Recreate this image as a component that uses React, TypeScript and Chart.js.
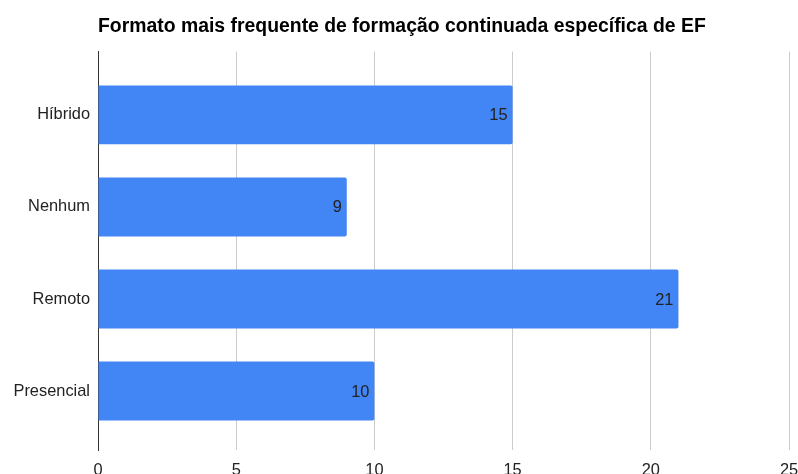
import React, { useEffect, useRef } from "react";
import { Chart, registerables } from "chart.js";

Chart.register(...registerables);

const title = "Formato mais frequente de formação continuada específica de EF";
const categories = ["Híbrido", "Nenhum", "Remoto", "Presencial"];
const values = [15, 9, 21, 10];
const xTicks = [0, 5, 10, 15, 20, 25];

const FONT = "'Liberation Sans', Arial, sans-serif";

const valueLabels = {
  id: "valueLabels",
  afterDatasetsDraw(chart: any) {
    const ctx = chart.ctx;
    const meta = chart.getDatasetMeta(0);
    ctx.save();
    ctx.font = `16.4px ${FONT}`;
    ctx.fillStyle = "#222222";
    ctx.textAlign = "right";
    ctx.textBaseline = "middle";
    meta.data.forEach((bar: any, i: number) => {
      ctx.fillText(String(values[i]), bar.x - 5, bar.y + 1);
    });
    ctx.restore();
  },
};

export default function App() {
  const ref = useRef<HTMLCanvasElement | null>(null);
  useEffect(() => {
    if (!ref.current) return;
    const chart = new Chart(ref.current, {
      type: "bar",
      data: {
        datasets: [
          {
            data: values.map((v, i) => ({ x: v, y: i })),
            backgroundColor: "#4285F4",
            borderRadius: { topRight: 2, bottomRight: 2, topLeft: 0, bottomLeft: 0 },
            borderSkipped: false,
            categoryPercentage: 0.8,
            barPercentage: 0.8,
          } as any,
        ],
      },
      options: {
        animation: false,
        responsive: false,
        maintainAspectRatio: false,
        indexAxis: "y",
        layout: { padding: { left: 0, right: 9, top: 0, bottom: 0 } },
        plugins: {
          legend: { display: false },
          tooltip: { enabled: false },
          title: {
            display: true,
            text: title,
            align: "start",
            fullSize: false,
            color: "#000000",
            font: { family: FONT, size: 19.4, weight: "bold" },
            padding: { top: 15, bottom: 13.3 },
          },
        },
        scales: {
          x: {
            type: "linear",
            min: 0,
            max: 25,
            offset: false,
            afterBuildTicks: (s: any) => {
              s.ticks = xTicks.map((v) => ({ value: v }));
            },
            afterFit: (s: any) => {
              s.paddingLeft = 0;
              s.paddingRight = 0;
            },
            grid: { color: "#cccccc", lineWidth: 1, drawTicks: false, offset: false },
            border: { display: false },
            ticks: {
              color: "#222222",
              padding: 10,
              font: { family: FONT, size: 16.4 },
            },
          },
          y: {
            type: "linear",
            reverse: true,
            offset: false,
            min: -0.688,
            max: 3.644,
            afterBuildTicks: (s: any) => {
              s.ticks = categories.map((_, i) => ({ value: i }));
            },
            afterFit: (s: any) => {
              s.width = 98;
            },
            grid: { display: false, drawTicks: false, offset: false },
            border: { display: true, color: "#333333", width: 1 },
            ticks: {
              color: "#222222",
              padding: 8,
              autoSkip: false,
              font: { family: FONT, size: 16.4 },
              callback: (v: any) => categories[Math.round(Number(v))] ?? "",
            },
          },
        },
      } as any,
      plugins: [valueLabels],
    });
    return () => chart.destroy();
  }, []);
  return (
    <div style={{ position: "fixed", left: 0, top: 0, width: 798, height: 474, overflow: "hidden", background: "#fff" }}>
      <canvas ref={ref} width={798} height={490} style={{ display: "block", width: 798, height: 490 }} />
    </div>
  );
}
